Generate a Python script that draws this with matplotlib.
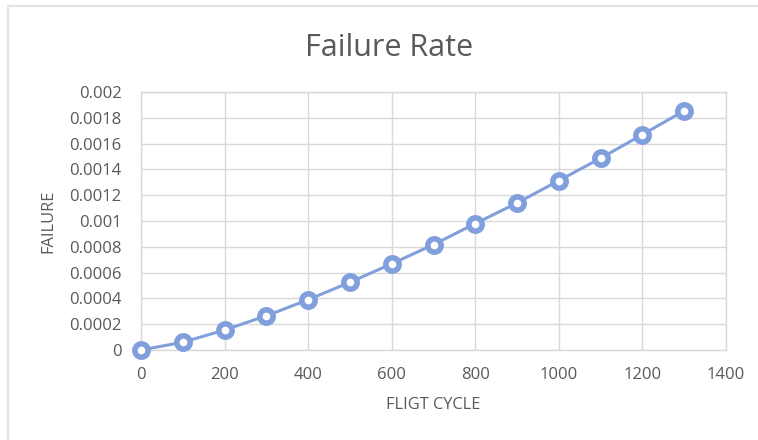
import matplotlib
matplotlib.use("Agg")
import matplotlib.pyplot as plt
from matplotlib.patches import Rectangle

plt.rcParams['font.family'] = ['Open Sans', 'DejaVu Sans']

cycles = [0, 100, 200, 300, 400, 500, 600, 700, 800, 900, 1000, 1100, 1200, 1300]
failure = [0.0, 0.00006, 0.000155, 0.000265, 0.00039, 0.000525, 0.000668, 0.000817,
           0.00098, 0.00114, 0.001313, 0.001487, 0.00167, 0.001855]
xticks = [0, 200, 400, 600, 800, 1000, 1200, 1400]
yticks = [0, 0.0002, 0.0004, 0.0006, 0.0008, 0.001, 0.0012, 0.0014, 0.0016, 0.0018, 0.002]
ytick_labels = ['0', '0.0002', '0.0004', '0.0006', '0.0008', '0.001', '0.0012',
                '0.0014', '0.0016', '0.0018', '0.002']

W, H = 758, 440
fig = plt.figure(figsize=(W / 100, H / 100), dpi=100)
fig.patch.set_facecolor('white')
# chart area border
fig.patches.append(Rectangle((7.5 / W, -0.05), 1.0, (H - 6) / H + 0.05, transform=fig.transFigure,
                             fill=False, edgecolor='#e4e4e4', linewidth=1.5))

left, right, top, bottom = 141, 726, 92, 350
ax = fig.add_axes([left / W, 1 - bottom / H, (right - left) / W, (bottom - top) / H])

color = '#809fdc'
ax.plot(cycles, failure, color=color, linewidth=2.2, marker='o', markersize=9.6,
        markerfacecolor='white', markeredgecolor=color, markeredgewidth=4.0,
        zorder=3, clip_on=False)

ax.set_xlim(0, 1400)
ax.set_ylim(0, 0.002)
ax.set_xticks(xticks)
ax.set_yticks(yticks)
ax.set_yticklabels(ytick_labels)
ax.grid(True, color='#d9d9d9', linewidth=1.0)
ax.set_axisbelow(True)
for s in ax.spines.values():
    s.set_color('#d9d9d9')
    s.set_linewidth(1.0)
ax.tick_params(length=0, colors='#595959', labelsize=12)
ax.tick_params(axis='x', pad=12)
ax.tick_params(axis='y', pad=14)

fig.text(433.5 / W, 1 - 404.5 / H, 'FLIGT CYCLE', ha='center', va='center',
         fontsize=11.8, color='#595959')
fig.text(48.5 / W, 1 - 221.5 / H, 'FAILURE', ha='center', va='center', rotation=90,
         fontsize=11.8, color='#595959')
fig.text(389 / W, 1 - 56 / H, 'Failure Rate', ha='center', va='baseline',
         fontsize=22, color='#595959')

fig.savefig('out.png', dpi=100, facecolor='white')
